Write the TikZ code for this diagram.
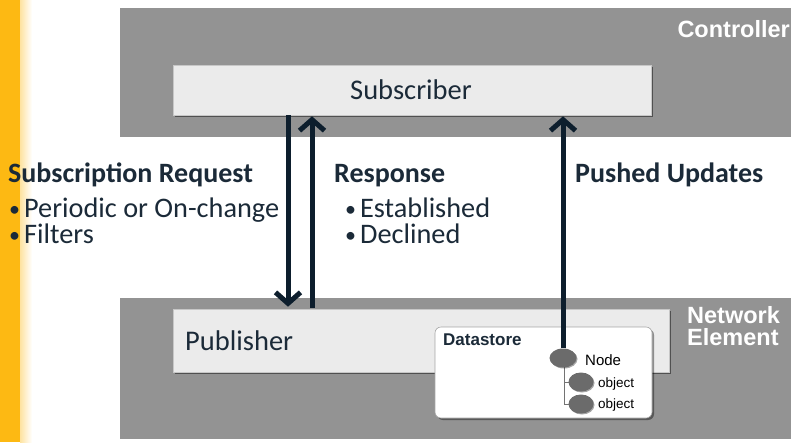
\documentclass[tikz,border=0pt]{standalone}
\usepackage{fontspec}
\setmainfont{Carlito}
\newfontfamily\arialf{Liberation Sans}
\usetikzlibrary{arrows.meta,shadows,shapes.geometric}
\definecolor{goldbar}{HTML}{FDB913}
\definecolor{panel}{HTML}{939393}
\definecolor{lbox}{HTML}{EBEBEB}
\definecolor{ink}{HTML}{1B2A38}
\definecolor{arr}{HTML}{0D1E2D}
\definecolor{dot}{HTML}{6B6B6B}
\newcommand{\bdot}{{\fontsize{22}{22}\selectfont\raisebox{1pt}{•}}\hspace{4pt}}
\tikzset{
  lightbox/.style={fill=lbox, draw=black!22, line width=0.6pt, inner sep=0pt,
    drop shadow={shadow xshift=2pt, shadow yshift=-2pt, opacity=0.45, fill=black}},
  dsbox/.style={fill=white, draw=black!35, line width=0.6pt, rounded corners=6pt, inner sep=0pt,
    drop shadow={shadow xshift=2pt, shadow yshift=-2pt, opacity=0.4, fill=black}},
  blob/.style={ellipse, fill=dot, draw=none, inner sep=0pt, minimum width=#1, minimum height=19pt,
    drop shadow={shadow xshift=1pt, shadow yshift=-1pt, opacity=0.35, fill=black}},
  flow/.style={draw=arr, line width=5pt, -{Straight Barb[length=11pt, width=25pt]}},
  head/.style={font=\bfseries\fontsize{28}{30}\selectfont, text=ink, anchor=base west, inner sep=0pt},
  bul/.style={font=\fontsize{28.3}{30}\selectfont, text=ink, anchor=base west, inner sep=0pt},
  tag/.style={font=\arialf\bfseries\fontsize{23.5}{26}\selectfont, text=white, inner sep=0pt},
  small/.style={font=\arialf\fontsize{#1}{#1}\selectfont, text=black, anchor=base west, inner sep=0pt},
}
\begin{document}
\begin{tikzpicture}[x=1pt,y=-1pt]
\useasboundingbox (0,0) rectangle (794,442);
\fill[white] (0,0) rectangle (794,442);
% yellow bar
\fill[goldbar] (0,0) rectangle (20,442);
\shade[left color=goldbar!40, right color=white] (20,0) rectangle (32,442);

% panels
\node[fill=panel, minimum width=671pt, minimum height=129pt, inner sep=0pt] (ctrl) at (455.5,72.5) {};
\node[fill=panel, minimum width=671pt, minimum height=141pt, inner sep=0pt] (ne) at (455.5,368.5) {};

\node[tag, anchor=base east] (ctrllbl) at (790,37) {Controller};
\node[tag, anchor=base west] (nelbl1) at (687,323) {Network};
\node[tag, anchor=base west] (nelbl2) at (687,345) {Element};

% subscriber / publisher
\node[lightbox, minimum width=478pt, minimum height=50pt] (sub) at (412,90) {};
\node[font=\fontsize{28.5}{30}\selectfont, text=ink] (sublbl) at (411,90) {Subscriber};
\node[lightbox, minimum width=496pt, minimum height=63pt] (pub) at (421,340.5) {};
\node[font=\fontsize{28.5}{30}\selectfont, text=ink, anchor=base west, inner sep=0pt] (publbl) at (185,350) {Publisher};

% datastore
\node[dsbox, minimum width=217pt, minimum height=91pt] (ds) at (543.5,372.5) {};
\node[font=\arialf\bfseries\fontsize{17}{17}\selectfont, text=ink, anchor=base west, inner sep=0pt] (dslbl) at (443,345) {Datastore};

\draw[black!55, line width=0.8pt] (564,367) |- (570,382);
\draw[black!55, line width=0.8pt] (564,367) |- (570,404);
\node[blob=27pt] (nd) at (563,358) {};
\node[blob=25pt] (ob1) at (581,382) {};
\node[blob=25pt] (ob2) at (581,404) {};
\node[small=15] (ndlbl) at (585,365) {Node};
\node[small=13.5] (ob1lbl) at (598,387) {object};
\node[small=13.5] (ob2lbl) at (598,408) {object};

% arrows
\draw[flow] (sub.south -| 288,0) -- ([yshift=2pt]pub.north -| 288,0);
\draw[flow] ([yshift=1pt]pub.north -| 312,0) -- ([yshift=-1pt]sub.south -| 312,0);
\draw[flow] (nd.north) -- ([yshift=-1pt]sub.south -| nd.north);

% texts
\node[head] (sreq) at (8,182) {Subscription Request};
\node[bul] (sb1) at (9,217) {\bdot Periodic or On-change};
\node[bul] (sb2) at (9,243) {\bdot Filters};
\node[head] (resp) at (334,182) {Response};
\node[bul] (rb1) at (345,217) {\bdot Established};
\node[bul] (rb2) at (345,243) {\bdot Declined};
\node[head] (push) at (575,182) {Pushed Updates};
\end{tikzpicture}
\end{document}
